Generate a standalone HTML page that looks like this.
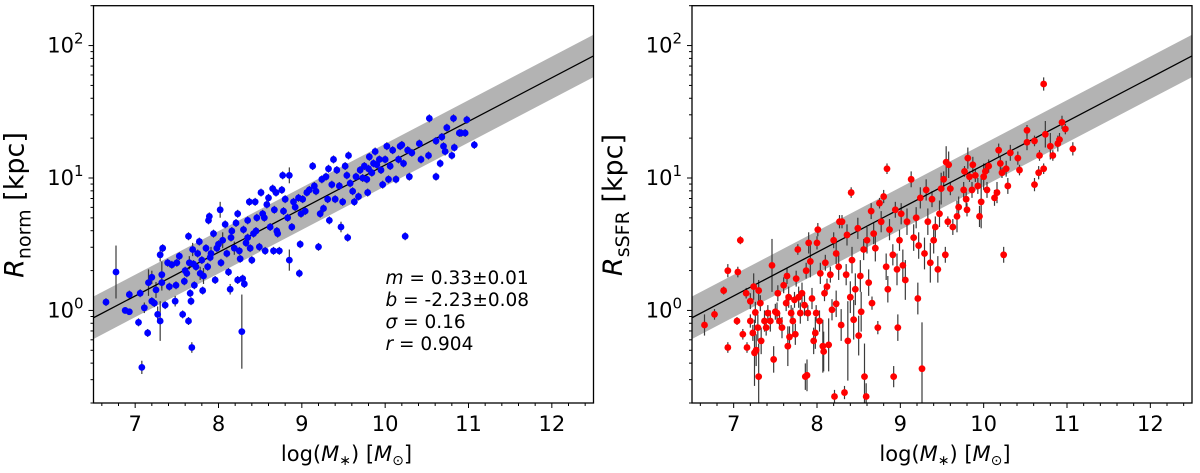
<!DOCTYPE html>
<html><head><meta charset="utf-8">
<style>
html,body{margin:0;padding:0;background:#fff;}
svg{display:block;font-family:"DejaVu Sans","Liberation Sans",sans-serif;}
</style></head>
<body>
<svg id="fig" width="1200" height="473" viewBox="0 0 1200 473" xmlns="http://www.w3.org/2000/svg"></svg>
<script>
// ---------- data (x = log M*, y = log10 R) ----------
const fitSlope = 0.3295;
const fitIntercept = -2.197;
const fitSigma = 0.16;
const xTicks = [7, 8, 9, 10, 11, 12];
const yTickExps = [0, 1, 2];
const statsLines = ["m = 0.33±0.01", "b = -2.23±0.08", "σ = 0.16", "r = 0.904"];

const normX = [6.65,6.77,6.88,6.93,6.93,7.04,7.06,7.08,7.11,7.15,7.16,7.2,7.2,7.23,7.25,7.27,7.3,7.3,7.32,7.32,7.33,7.36,7.39,7.41,7.44,7.48,7.49,7.5,7.53,7.57,7.59,7.62,7.64,7.64,7.65,7.66,7.67,7.68,7.69,7.71,7.73,7.75,7.77,7.78,7.8,7.81,7.82,7.85,7.87,7.88,7.89,7.91,7.94,7.96,7.98,8.02,8.03,8.05,8.08,8.1,8.12,8.14,8.16,8.19,8.21,8.23,8.23,8.26,8.28,8.29,8.31,8.3,8.33,8.35,8.37,8.38,8.4,8.42,8.44,8.46,8.49,8.51,8.53,8.56,8.58,8.6,8.62,8.65,8.66,8.67,8.69,8.71,8.73,8.76,8.77,8.78,8.8,8.83,8.85,8.85,8.88,8.9,8.92,8.96,8.97,8.98,8.99,9.01,9.04,9.06,9.09,9.13,9.15,9.17,9.2,9.22,9.24,9.26,9.29,9.31,9.32,9.33,9.36,9.38,9.4,9.42,9.45,9.47,9.49,9.52,9.54,9.55,9.56,9.58,9.61,9.63,9.65,9.68,9.7,9.73,9.75,9.78,9.79,9.8,9.81,9.84,9.86,9.88,9.9,9.93,9.95,9.97,10.0,10.02,10.04,10.06,10.09,10.13,10.16,10.18,10.2,10.22,10.24,10.27,10.29,10.32,10.41,10.43,10.52,10.53,10.61,10.61,10.66,10.68,10.7,10.72,10.74,10.8,10.82,10.83,10.89,10.91,10.96,10.98,11.07,7.9,8.0,8.15,8.25,8.45,8.55,8.7,7.7,7.6,8.35];
const normY = [0.063,0.29,0,-0.01,0.12,-0.09,0.13,-0.43,0.02,-0.17,0.21,0.07,0.25,0.055,0.155,-0.03,0.42,-0.08,0.21,0.27,0.47,0.04,0.36,0.18,0.345,0.07,0.19,0.36,0.41,-0.03,0.22,0.28,0.56,-0.08,0.36,0.13,0.07,-0.28,0.46,0.19,0.33,0.43,0.52,0.28,0.38,0.15,0.26,0.47,0.33,0.68,0.71,0.43,0.58,0.23,0.47,0.76,0.36,0.53,0.65,0.43,0.29,0.16,0.6,0.47,0.66,0.23,0.73,0.39,-0.16,0.24,0.2,0.61,0.51,0.68,0.82,0.47,0.38,0.58,0.82,0.7,0.48,0.89,0.73,0.45,0.8,0.85,0.63,0.92,0.45,0.76,0.89,0.58,0.45,0.91,1.02,0.75,0.84,0.7,1.02,0.38,0.63,0.82,0.78,0.85,0.28,0.5,0.73,0.84,0.75,0.89,0.91,1.09,0.94,0.9,0.48,0.73,0.99,0.77,1.01,0.84,1.07,0.68,0.95,1.14,0.84,1.06,0.94,0.63,0.82,1.09,1.02,0.55,1.17,0.96,0.9,0.82,1.01,0.86,1.06,1.0,1.09,0.99,0.89,1.07,1.16,1.04,1.11,1.2,1.1,1.14,1.06,0.95,1.14,1.24,0.99,1.09,1.21,0.99,1.14,1.24,1.25,1.11,0.56,1.21,1.01,1.19,1.26,1.14,1.17,1.45,1.01,1.28,1.11,1.31,1.24,1.2,1.38,1.17,1.45,1.23,1.34,1.34,1.34,1.44,1.25,0.4,0.5,0.55,0.45,0.6,0.7,0.6,0.35,0.3,0.55];
const normErr = [0.03,0.2,0.02,0.02,0.03,0.03,0.03,0.05,0.04,0.03,0.1,0.03,0.05,0.03,0.06,0.06,0.05,0.15,0.06,0.1,0.03,0.03,0.03,0.03,0.03,0.04,0.03,0.03,0.03,0.03,0.03,0.03,0.03,0.03,0.05,0.03,0.03,0.04,0.05,0.03,0.03,0.03,0.03,0.05,0.03,0.03,0.06,0.03,0.03,0.03,0.03,0.05,0.03,0.03,0.03,0.06,0.03,0.06,0.03,0.03,0.03,0.04,0.03,0.05,0.03,0.03,0.03,0.03,0.28,0.03,0.03,0.03,0.03,0.03,0.03,0.03,0.03,0.03,0.03,0.03,0.03,0.03,0.03,0.03,0.03,0.03,0.03,0.03,0.03,0.03,0.03,0.03,0.03,0.03,0.03,0.03,0.03,0.03,0.06,0.08,0.03,0.03,0.03,0.03,0.03,0.03,0.03,0.03,0.03,0.03,0.03,0.03,0.03,0.03,0.03,0.03,0.03,0.03,0.03,0.03,0.03,0.03,0.03,0.03,0.03,0.03,0.03,0.04,0.03,0.03,0.03,0.03,0.03,0.03,0.03,0.03,0.03,0.03,0.03,0.03,0.03,0.03,0.03,0.03,0.03,0.03,0.03,0.03,0.03,0.03,0.03,0.03,0.03,0.03,0.03,0.03,0.03,0.03,0.03,0.03,0.03,0.03,0.03,0.03,0.03,0.03,0.03,0.03,0.03,0.03,0.03,0.03,0.03,0.03,0.03,0.03,0.03,0.03,0.03,0.03,0.03,0.03,0.03,0.03,0.03,0.03,0.03,0.03,0.03,0.03,0.03,0.03,0.03,0.03,0.03,0.03,0.03,0.03,0.03];

const ssfrX = [6.65,6.77,6.88,6.93,6.93,7.04,7.05,7.08,7.11,7.15,7.16,7.2,7.2,7.23,7.24,7.25,7.26,7.27,7.29,7.3,7.3,7.32,7.33,7.37,7.39,7.41,7.44,7.46,7.48,7.5,7.52,7.53,7.55,7.58,7.6,7.63,7.64,7.65,7.66,7.67,7.69,7.71,7.73,7.74,7.75,7.77,7.78,7.8,7.82,7.85,7.86,7.87,7.88,7.89,7.9,7.92,7.94,7.96,7.98,7.99,8.0,8.01,8.03,8.04,8.07,8.08,8.09,8.1,8.12,8.14,8.16,8.18,8.2,8.21,8.23,8.23,8.26,8.27,8.29,8.3,8.33,8.35,8.36,8.37,8.4,8.41,8.42,8.44,8.46,8.49,8.5,8.52,8.53,8.56,8.57,8.59,8.6,8.62,8.65,8.66,8.68,8.7,8.73,8.75,8.77,8.8,8.83,8.84,8.85,8.87,8.91,8.92,8.94,8.96,8.97,8.99,9.01,9.03,9.06,9.08,9.13,9.16,9.19,9.21,9.22,9.24,9.26,9.29,9.31,9.33,9.36,9.38,9.4,9.42,9.45,9.47,9.49,9.52,9.54,9.55,9.57,9.58,9.6,9.63,9.68,9.7,9.76,9.77,9.79,9.8,9.81,9.83,9.86,9.87,9.9,9.93,9.95,9.97,10.0,10.02,10.04,10.06,10.13,10.16,10.18,10.2,10.22,10.24,10.27,10.29,10.32,10.41,10.43,10.52,10.52,10.61,10.61,10.66,10.67,10.72,10.72,10.74,10.8,10.83,10.89,10.91,10.94,10.98,11.07];
const ssfrY = [-0.11,-0.03,0.15,0.3,-0.28,-0.08,0.29,0.53,-0.18,0.13,-0.28,-0.08,0.07,-0.17,0.18,-0.32,-0.015,-0.3,-0.13,-0.5,0.15,0.055,-0.23,-0.08,-0.13,-0.02,-0.08,0.34,-0.37,-0.01,-0.02,0.13,-0.08,-0.13,0.19,0.055,0.26,-0.27,0.1,-0.2,-0.02,-0.08,0.08,-0.18,0.24,0.46,0.1,-0.02,0.13,0.04,-0.5,0.3,-0.49,-0.02,0.51,0.37,0.09,-0.23,-0.17,-0.02,0.51,0.61,-0.08,0.28,-0.27,-0.31,0.13,0.36,0.18,-0.26,0.27,0.005,0.53,-0.65,0.05,0.43,0.33,0.67,-0.11,0.67,-0.62,0.27,0.57,-0.23,0.1,0.89,0.38,-0.07,0.16,0.62,-0.19,0.26,-0.01,0.46,-0.5,-0.65,0.53,0.21,0.75,0.055,0.58,0.47,-0.13,0.81,0.67,0.86,0.33,1.07,0.16,0.61,0.42,-0.5,0.76,0.31,-0.13,0.53,0.73,0.34,0.23,0.67,0.99,0.55,0.7,0.09,0.49,0.85,-0.44,0.43,0.91,0.67,0.36,0.84,0.53,0.63,0.31,0.73,0.92,0.99,0.42,1.12,0.67,1.1,0.92,0.63,0.71,0.78,0.91,1.05,0.84,0.76,1.15,1.01,0.91,1.1,1.02,0.94,0.71,0.82,1.01,1.05,0.91,1.09,0.85,0.89,1.21,1.11,1.04,0.42,1.07,0.94,1.19,1.15,1.06,1.36,1.27,0.95,1.28,1.04,1.17,1.71,1.07,1.33,1.24,1.17,1.26,1.29,1.42,1.37,1.22];
const ssfrErr = [0.08,0.04,0.03,0.05,0.04,0.03,0.04,0.03,0.04,0.04,0.04,0.05,0.06,0.06,0.1,0.25,0.08,0.12,0.1,0.25,0.08,0.06,0.1,0.08,0.06,0.06,0.08,0.2,0.1,0.06,0.08,0.06,0.06,0.08,0.06,0.06,0.06,0.15,0.08,0.08,0.06,0.1,0.06,0.08,0.06,0.04,0.08,0.08,0.08,0.08,0.1,0.06,0.12,0.06,0.08,0.12,0.08,0.1,0.12,0.06,0.05,0.05,0.08,0.08,0.2,0.15,0.06,0.06,0.06,0.2,0.06,0.08,0.06,0.05,0.1,0.08,0.1,0.05,0.12,0.05,0.05,0.08,0.08,0.3,0.12,0.04,0.1,0.15,0.12,0.08,0.15,0.12,0.15,0.08,0.25,0.1,0.1,0.1,0.06,0.05,0.08,0.1,0.05,0.04,0.08,0.05,0.1,0.04,0.1,0.08,0.08,0.08,0.06,0.12,0.1,0.08,0.08,0.12,0.15,0.1,0.06,0.1,0.08,0.12,0.1,0.08,0.35,0.12,0.08,0.1,0.15,0.06,0.1,0.08,0.1,0.1,0.12,0.06,0.06,0.12,0.04,0.1,0.05,0.06,0.12,0.08,0.06,0.04,0.06,0.05,0.08,0.04,0.06,0.06,0.05,0.06,0.08,0.2,0.1,0.05,0.06,0.05,0.06,0.08,0.05,0.05,0.04,0.06,0.06,0.06,0.06,0.05,0.04,0.04,0.06,0.05,0.04,0.05,0.04,0.05,0.04,0.1,0.1,0.04,0.06,0.05,0.05,0.04,0.05,0.04,0.05];

// ---------- layout ----------
const NS = "http://www.w3.org/2000/svg";
const svg = document.getElementById('fig');
const X0 = 6.5, X1 = 12.5, LY0 = Math.log10(0.2), LY1 = Math.log10(200);
const panelW = 500, plotTop = 5.7, plotBottom = 403;

function mk(tag, attrs, parent) {
  const e = document.createElementNS(NS, tag);
  for (const k in attrs) e.setAttribute(k, attrs[k]);
  (parent || svg).appendChild(e);
  return e;
}

function drawPanel(left, xs, ys, errs, color, labelSub, showStats, key) {
  const sx = v => left + (v - X0) / (X1 - X0) * panelW;
  const sy = v => plotBottom - (v - LY0) / (LY1 - LY0) * (plotBottom - plotTop);
  const g = mk('g', {});
  
  
  const clipId = 'clip-' + key;
  const cp = mk('clipPath', {id: clipId}, g);
  mk('rect', {x: left, y: plotTop, width: panelW, height: plotBottom - plotTop}, cp);
  const plot = mk('g', {'clip-path': 'url(#' + clipId + ')'}, g);

  const xa = X0, xb = X1;
  const fa = fitSlope * xa + fitIntercept, fb = fitSlope * xb + fitIntercept;
  const band = mk('polygon', {
    points: `${sx(xa)},${sy(fa + fitSigma)} ${sx(xb)},${sy(fb + fitSigma)} ${sx(xb)},${sy(fb - fitSigma)} ${sx(xa)},${sy(fa - fitSigma)}`,
    fill: '#b3b3b3'
  }, plot);
  
  

  for (let i = 0; i < xs.length; i++) {
    const eb = mk('line', {x1: sx(xs[i]), x2: sx(xs[i]), y1: sy(ys[i] - errs[i]), y2: sy(ys[i] + errs[i]), stroke: '#3a3a3a', 'stroke-width': 1.2}, plot);
    
    
  }
  const fl = mk('line', {x1: sx(xa), y1: sy(fa), x2: sx(xb), y2: sy(fb), stroke: '#000', 'stroke-width': 1.3}, plot);
  
  
  for (let i = 0; i < xs.length; i++) {
    const p = mk('circle', {cx: sx(xs[i]), cy: sy(ys[i]), r: 3.4, fill: color}, plot);
    
    
  }
  const fr = mk('rect', {x: left, y: plotTop, width: panelW, height: plotBottom - plotTop, fill: 'none', stroke: '#000', 'stroke-width': 1.3}, g);
  
  

  for (let k = 0; k <= 29; k++) {
    const rv = Math.round((6.6 + 0.2 * k) * 10) / 10;
    const major = Math.abs(rv - Math.round(rv)) < 1e-6;
    mk('line', {x1: sx(rv), x2: sx(rv), y1: plotBottom, y2: plotBottom + (major ? 5 : 3), stroke: '#000', 'stroke-width': 1}, g);
  }
  xTicks.forEach(t => {
    const tl = mk('text', {x: sx(t), y: 431, 'text-anchor': 'middle', 'font-size': 21}, g);
    tl.textContent = t;
    
    
  });
  for (let d = -1; d <= 2; d++) {
    for (let m = 1; m <= 9; m++) {
      const lv = d + Math.log10(m);
      if (lv < LY0 - 1e-9 || lv > LY1 + 1e-9) continue;
      mk('line', {x1: left, x2: left - (m === 1 ? 5 : 3), y1: sy(lv), y2: sy(lv), stroke: '#000', 'stroke-width': 1}, g);
    }
  }
  yTickExps.forEach(e => {
    const tl = mk('text', {x: left - 10, y: sy(e) + 7, 'text-anchor': 'end', 'font-size': 21}, g);
    
    
    const t1 = mk('tspan', {}, tl); t1.textContent = '10';
    const t2 = mk('tspan', {dy: -9, 'font-size': 15}, tl); t2.textContent = e;
  });
  const xl = mk('text', {x: left + 253, y: 461, 'text-anchor': 'middle', 'font-size': 21}, g);
  
  
  const parts = [['log(', {}], ['M', {'font-style': 'italic'}], ['∗', {'font-size': 14, dy: 4}], [') [', {dy: -4}], ['M', {'font-style': 'italic'}], ['⊙', {'font-size': 14, dy: 4}], [']', {dy: -4}]];
  parts.forEach(p => { const ts = mk('tspan', p[1], xl); ts.textContent = p[0]; });

  const yl = mk('text', {transform: `translate(${left - 70},205) rotate(-90)`, 'text-anchor': 'middle', 'font-size': 27}, g);
  
  
  const y1 = mk('tspan', {'font-style': 'italic'}, yl); y1.textContent = 'R';
  const y2 = mk('tspan', {'font-size': 19, dy: 7}, yl); y2.textContent = labelSub;
  const y3 = mk('tspan', {dy: -7}, yl); y3.textContent = ' [kpc]';

  if (showStats) {
    statsLines.forEach((s, i) => {
      const t = mk('text', {x: left + 292, y: 284 + i * 22, 'font-size': 18.5}, g);
      
      
      const sp = s.split(' = ');
      const a = mk('tspan', {'font-style': 'italic'}, t); a.textContent = sp[0];
      const b = mk('tspan', {}, t); b.textContent = ' = ' + sp[1];
    });
  }
}

drawPanel(93.5, normX, normY, normErr, '#0000ff', 'norm', true, 'norm');
drawPanel(692, ssfrX, ssfrY, ssfrErr, '#ff0000', 'sSFR', false, 'ssfr');
</script>
</body></html>
